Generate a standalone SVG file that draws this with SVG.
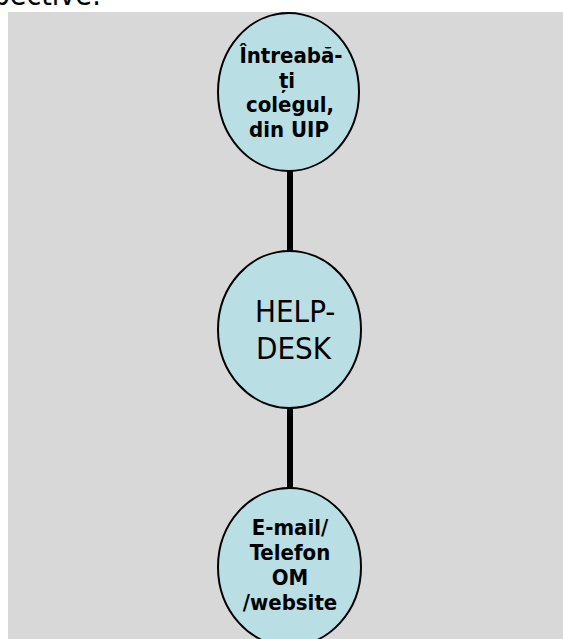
<svg xmlns="http://www.w3.org/2000/svg" width="563" height="639" viewBox="0 0 563 639">
<style>
.node{fill:#B9DFE4;stroke:#000;stroke-width:2}
.conn{stroke:#000;stroke-width:6}
.t{font-family:"DejaVu Sans Condensed","DejaVu Sans",sans-serif;fill:#000;text-anchor:middle}
.b{font-weight:bold;font-size:22px}
</style>
<rect x="0" y="0" width="563" height="639" fill="#fff"/>
<text class="t" x="101" y="5" style="text-anchor:end;font-size:30px">Perspective:</text>
<rect x="8" y="12" width="555" height="627" fill="#D8D8D8"/>
<g id="connectors">
<line class="conn" x1="290" y1="170" x2="290" y2="252"/>
<line class="conn" x1="290" y1="407" x2="290" y2="489"/>
</g>
<g id="node-intreaba">
<ellipse class="node" cx="288.5" cy="92" rx="70.5" ry="79"/>
<text class="t b"><tspan x="291" y="63">Întreabă-</tspan><tspan x="287" y="88">ți</tspan><tspan x="290" y="112">colegul,</tspan><tspan x="289" y="136.5">din UIP</tspan></text>
</g>
<g id="node-helpdesk">
<ellipse class="node" cx="289.5" cy="329.5" rx="71.5" ry="78.5"/>
<text class="t" style="font-size:31px;text-anchor:start"><tspan x="255" y="321.5">HELP-</tspan><tspan x="256" y="358.5">DESK</tspan></text>
</g>
<g id="node-email">
<ellipse class="node" cx="289.5" cy="567" rx="71.5" ry="79"/>
<text class="t b"><tspan x="290" y="535">E-mail/</tspan><tspan x="290" y="560">Telefon</tspan><tspan x="290" y="585">OM</tspan><tspan x="290" y="610">/website</tspan></text>
</g>
</svg>
